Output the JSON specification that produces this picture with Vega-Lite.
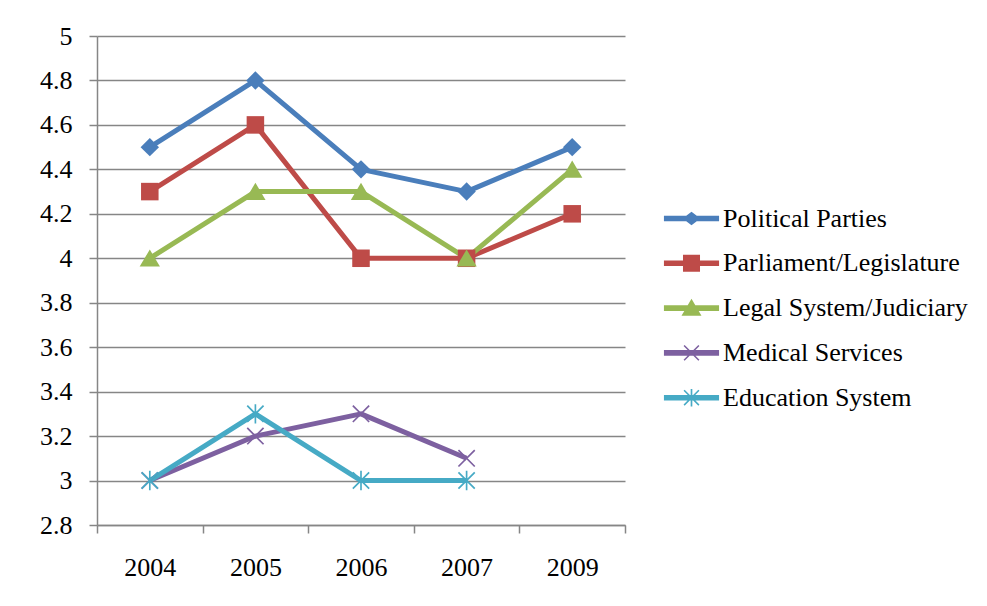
{
  "$schema": "https://vega.github.io/schema/vega-lite/v6.json",
  "width": 528,
  "height": 489,
  "autosize": {"type": "none"},
  "padding": {"left": 97, "top": 36, "right": 362, "bottom": 81},
  "background": "white",
  "config": {
    "view": {"stroke": null},
    "font": "Liberation Serif"
  },
  "data": {
    "values": [
      {"year": "2004", "series": "Political Parties", "value": 4.5},
      {"year": "2005", "series": "Political Parties", "value": 4.8},
      {"year": "2006", "series": "Political Parties", "value": 4.4},
      {"year": "2007", "series": "Political Parties", "value": 4.3},
      {"year": "2009", "series": "Political Parties", "value": 4.5},
      {"year": "2004", "series": "Parliament/Legislature", "value": 4.3},
      {"year": "2005", "series": "Parliament/Legislature", "value": 4.6},
      {"year": "2006", "series": "Parliament/Legislature", "value": 4.0},
      {"year": "2007", "series": "Parliament/Legislature", "value": 4.0},
      {"year": "2009", "series": "Parliament/Legislature", "value": 4.2},
      {"year": "2004", "series": "Legal System/Judiciary", "value": 4.0},
      {"year": "2005", "series": "Legal System/Judiciary", "value": 4.3},
      {"year": "2006", "series": "Legal System/Judiciary", "value": 4.3},
      {"year": "2007", "series": "Legal System/Judiciary", "value": 4.0},
      {"year": "2009", "series": "Legal System/Judiciary", "value": 4.4},
      {"year": "2004", "series": "Medical Services", "value": 3.0},
      {"year": "2005", "series": "Medical Services", "value": 3.2},
      {"year": "2006", "series": "Medical Services", "value": 3.3},
      {"year": "2007", "series": "Medical Services", "value": 3.1},
      {"year": "2004", "series": "Education System", "value": 3.0},
      {"year": "2005", "series": "Education System", "value": 3.3},
      {"year": "2006", "series": "Education System", "value": 3.0},
      {"year": "2007", "series": "Education System", "value": 3.0}
    ]
  },
  "encoding": {
    "x": {
      "field": "year",
      "type": "ordinal",
      "sort": ["2004", "2005", "2006", "2007", "2009"],
      "scale": {"paddingInner": 0, "paddingOuter": 0},
      "axis": {
        "title": null,
        "tickBand": "extent",
        "labelAngle": 0,
        "grid": false,
        "tickSize": 8,
        "tickColor": "#868686",
        "tickWidth": 1.5,
        "domainColor": "#868686",
        "domainWidth": 1.5,
        "labelFont": "Liberation Serif",
        "labelFontSize": 26,
        "labelColor": "#000000",
        "labelPadding": 21
      }
    },
    "y": {
      "field": "value",
      "type": "quantitative",
      "scale": {"domain": [2.8, 5], "nice": false, "zero": false},
      "axis": {
        "title": null,
        "values": [2.8, 3, 3.2, 3.4, 3.6, 3.8, 4, 4.2, 4.4, 4.6, 4.8, 5],
        "format": "~g",
        "grid": true,
        "gridColor": "#868686",
        "gridWidth": 1.5,
        "tickSize": 8,
        "tickColor": "#868686",
        "tickWidth": 1.5,
        "domainColor": "#868686",
        "domainWidth": 1.5,
        "labelFont": "Liberation Serif",
        "labelFontSize": 26,
        "labelColor": "#000000",
        "labelPadding": 17
      }
    },
    "color": {
      "field": "series",
      "type": "nominal",
      "scale": {
        "domain": ["Political Parties", "Parliament/Legislature", "Legal System/Judiciary", "Medical Services", "Education System"],
        "range": ["#4A7EBB", "#BE4B48", "#98B954", "#7D60A0", "#46AAC5"]
      },
      "legend": {
        "title": null,
        "orient": "none",
        "legendX": 576,
        "legendY": 164,
        "padding": 0,
        "rowPadding": 12.8,
        "symbolSize": 1369,
        "symbolStrokeWidth": 0,
        "symbolOpacity": 1,
        "labelOffset": 13,
        "labelFont": "Liberation Serif",
        "labelFontSize": 26,
        "labelColor": "#000000",
        "labelLimit": 400,
        "encode": {
          "symbols": {
            "update": {
              "shape": {"signal": "datum.value === 'Political Parties' ? 'M-1.49,-0.15H1.49V0.15H-1.49Z M0,-0.36L0.48,0L0,0.36L-0.48,0Z' : datum.value === 'Parliament/Legislature' ? 'M-1.49,-0.15H1.49V0.15H-1.49Z M-0.46,-0.46H0.46V0.46H-0.46Z' : datum.value === 'Legal System/Judiciary' ? 'M-1.49,-0.15H1.49V0.15H-1.49Z M0,-0.5L0.54,0.42H-0.54Z' : datum.value === 'Medical Services' ? 'M-1.49,-0.15H1.49V0.15H-1.49Z M-0.43,-0.37L-0.37,-0.43L0.43,0.37L0.37,0.43Z M0.37,-0.43L0.43,-0.37L-0.37,0.43L-0.43,0.37Z' : 'M-1.49,-0.15H1.49V0.15H-1.49Z M-0.43,-0.37L-0.37,-0.43L0.43,0.37L0.37,0.43Z M0.37,-0.43L0.43,-0.37L-0.37,0.43L-0.43,0.37Z M-0.045,-0.47H0.045V0.47H-0.045Z'"},
              "fill": {"scale": "color", "field": "value"},
              "stroke": {"value": "transparent"},
              "strokeWidth": {"value": 0},
              "opacity": {"value": 1}
            }
          }
        }
      }
    }
  },
  "layer": [
    {
      "mark": {"type": "line", "strokeWidth": 5, "strokeJoin": "round"}
    },
    {
      "transform": [{"filter": "datum.series === 'Political Parties'"}],
      "mark": {"type": "point", "filled": true, "opacity": 1, "size": 340, "strokeWidth": 0, "shape": "M0,-1L1,0L0,1L-1,0Z"}
    },
    {
      "transform": [{"filter": "datum.series === 'Parliament/Legislature'"}],
      "mark": {"type": "point", "filled": true, "opacity": 1, "size": 340, "strokeWidth": 0, "shape": "M-0.95,-0.95H0.95V0.95H-0.95Z"}
    },
    {
      "transform": [{"filter": "datum.series === 'Legal System/Judiciary'"}],
      "mark": {"type": "point", "filled": true, "opacity": 1, "size": 340, "strokeWidth": 0, "shape": "M0,-0.95L1.1,0.9H-1.1Z"}
    },
    {
      "transform": [{"filter": "datum.series === 'Medical Services'"}],
      "mark": {"type": "point", "filled": true, "opacity": 1, "size": 340, "strokeWidth": 0, "shape": "M-0.95,-0.82L-0.82,-0.95L0.95,0.82L0.82,0.95Z M0.82,-0.95L0.95,-0.82L-0.82,0.95L-0.95,0.82Z"}
    },
    {
      "transform": [{"filter": "datum.series === 'Education System'"}],
      "mark": {"type": "point", "filled": true, "opacity": 1, "size": 340, "strokeWidth": 0, "shape": "M-0.95,-0.82L-0.82,-0.95L0.95,0.82L0.82,0.95Z M0.82,-0.95L0.95,-0.82L-0.82,0.95L-0.95,0.82Z M-0.09,-1.05H0.09V1.05H-0.09Z"}
    }
  ]
}
